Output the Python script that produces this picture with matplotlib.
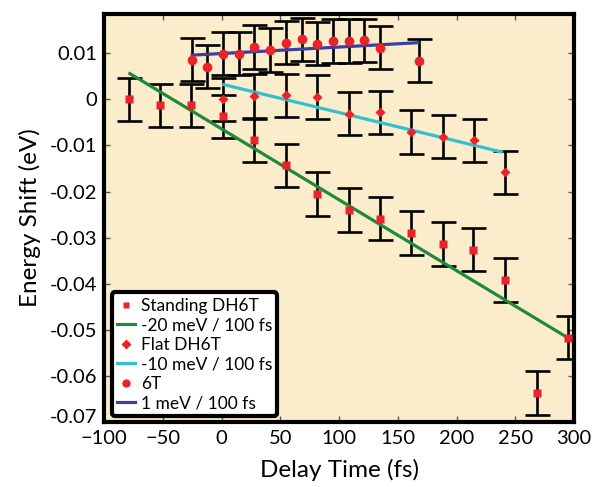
import matplotlib
matplotlib.use("Agg")
import matplotlib.pyplot as plt
from matplotlib.lines import Line2D
from matplotlib.transforms import ScaledTranslation

plt.rcParams['font.family'] = ['Lato', 'DejaVu Sans']

# Standing DH6T (squares)
standing_t = [-79, -52, -26, 1, 28, 55, 81, 108, 135, 161, 188, 214, 241, 268, 295]
standing_e = [0.0, -0.0013, -0.0013, -0.0037, -0.0089, -0.0143, -0.0205, -0.0240,
              -0.0259, -0.0290, -0.0314, -0.0326, -0.0392, -0.0637, -0.0517]

# Flat DH6T (diamonds)
flat_t = [1.5, 28, 55, 81.5, 108, 135, 161, 188, 214.5, 241]
flat_e = [0.0, 0.0007, 0.0009, 0.0005, -0.0031, -0.0028, -0.0071, -0.0081, -0.0089, -0.0158]

# 6T (circles)
t6_t = [-25, -12.5, 1.5, 14.5, 28, 41, 55, 68, 81.5, 95, 108, 121, 135, 168]
t6_e = [0.0086, 0.0071, 0.0099, 0.0099, 0.0114, 0.0107, 0.0123, 0.0130, 0.0121,
        0.0127, 0.0127, 0.0128, 0.0112, 0.0084]

err = 0.0047

# linear fits (end points)
fit_standing_t = [-78, 295]
fit_standing_e = [0.0056, -0.0518]
fit_flat_t = [2, 238]
fit_flat_e = [0.0032, -0.0114]
fit_6t_t = [-25, 167]
fit_6t_e = [0.0096, 0.0123]

red = '#e8232a'
green = '#1f8a3c'
cyan = '#33c0cc'
blue = '#3b3f9e'

fig = plt.figure(figsize=(5.96, 4.87), dpi=100)
ax = fig.add_axes([0.1745, 0.1335, 0.789, 0.8375])
ax.set_facecolor('#fbeccb')

for t, e in [(standing_t, standing_e), (flat_t, flat_e), (t6_t, t6_e)]:
    ax.errorbar(t, e, yerr=err, fmt='none', ecolor='black', elinewidth=1.9,
                capsize=9, capthick=1.9, zorder=2)

ax.plot(fit_standing_t, fit_standing_e, color=green, lw=2.3, zorder=3)
ax.plot(fit_flat_t, fit_flat_e, color=cyan, lw=2.3, zorder=3)
ax.plot(fit_6t_t, fit_6t_e, color=blue, lw=2.3, zorder=3)

ax.plot(standing_t, standing_e, 's', color=red, ms=5.5, mec='none', zorder=4)
ax.plot(flat_t, flat_e, 'D', color=red, ms=5.5, mec='none', zorder=4)
ax.plot(t6_t, t6_e, 'o', color=red, ms=7, mec='none', zorder=4)

ax.set_xlim(-100, 300)
ax.set_ylim(-0.07, 0.0185)
ax.set_xticks(range(-100, 301, 50))
ax.set_yticks([-0.07, -0.06, -0.05, -0.04, -0.03, -0.02, -0.01, 0, 0.01])
ax.set_yticklabels(['-0.07', '-0.06', '-0.05', '-0.04', '-0.03', '-0.02', '-0.01', '0', '0.01'])
ax.tick_params(direction='in', top=True, right=True, length=4, width=1,
               labelsize=14.5, color='#555555')
ax.tick_params(axis='x', pad=6)
ax.tick_params(axis='y', pad=5)
for s in ax.spines.values():
    s.set_linewidth(3)
    s.set_color('black')

# nudge the lowest y label up so it clears the -100
lowest = ax.get_yticklabels()[0]
lowest.set_transform(lowest.get_transform() + ScaledTranslation(0, 4 / 72, fig.dpi_scale_trans))

ax.set_xlabel('Delay Time (fs)', fontsize=17.5, labelpad=8)
ax.set_ylabel('Energy Shift (eV)', fontsize=17.5, labelpad=6)

handles = [
    Line2D([], [], ls='none', marker='s', color=red, ms=5, mec='none'),
    Line2D([], [], color=green, lw=2.3),
    Line2D([], [], ls='none', marker='D', color=red, ms=5, mec='none'),
    Line2D([], [], color=cyan, lw=2.3),
    Line2D([], [], ls='none', marker='o', color=red, ms=6, mec='none'),
    Line2D([], [], color=blue, lw=2.3),
]
labels = ['Standing DH6T', '-20 meV / 100 fs', 'Flat DH6T',
          '-10 meV / 100 fs', '6T', '1 meV / 100 fs']
leg = ax.legend(handles, labels, loc='lower left', bbox_to_anchor=(0.017, 0.014),
                fontsize=12.5, handlelength=1.0, handletextpad=0.35,
                labelspacing=0.2, borderpad=0.3, borderaxespad=0,
                fancybox=True, framealpha=1)
leg.get_frame().set_edgecolor('black')
leg.get_frame().set_linewidth(3)

plt.savefig('out.png', dpi=100)
